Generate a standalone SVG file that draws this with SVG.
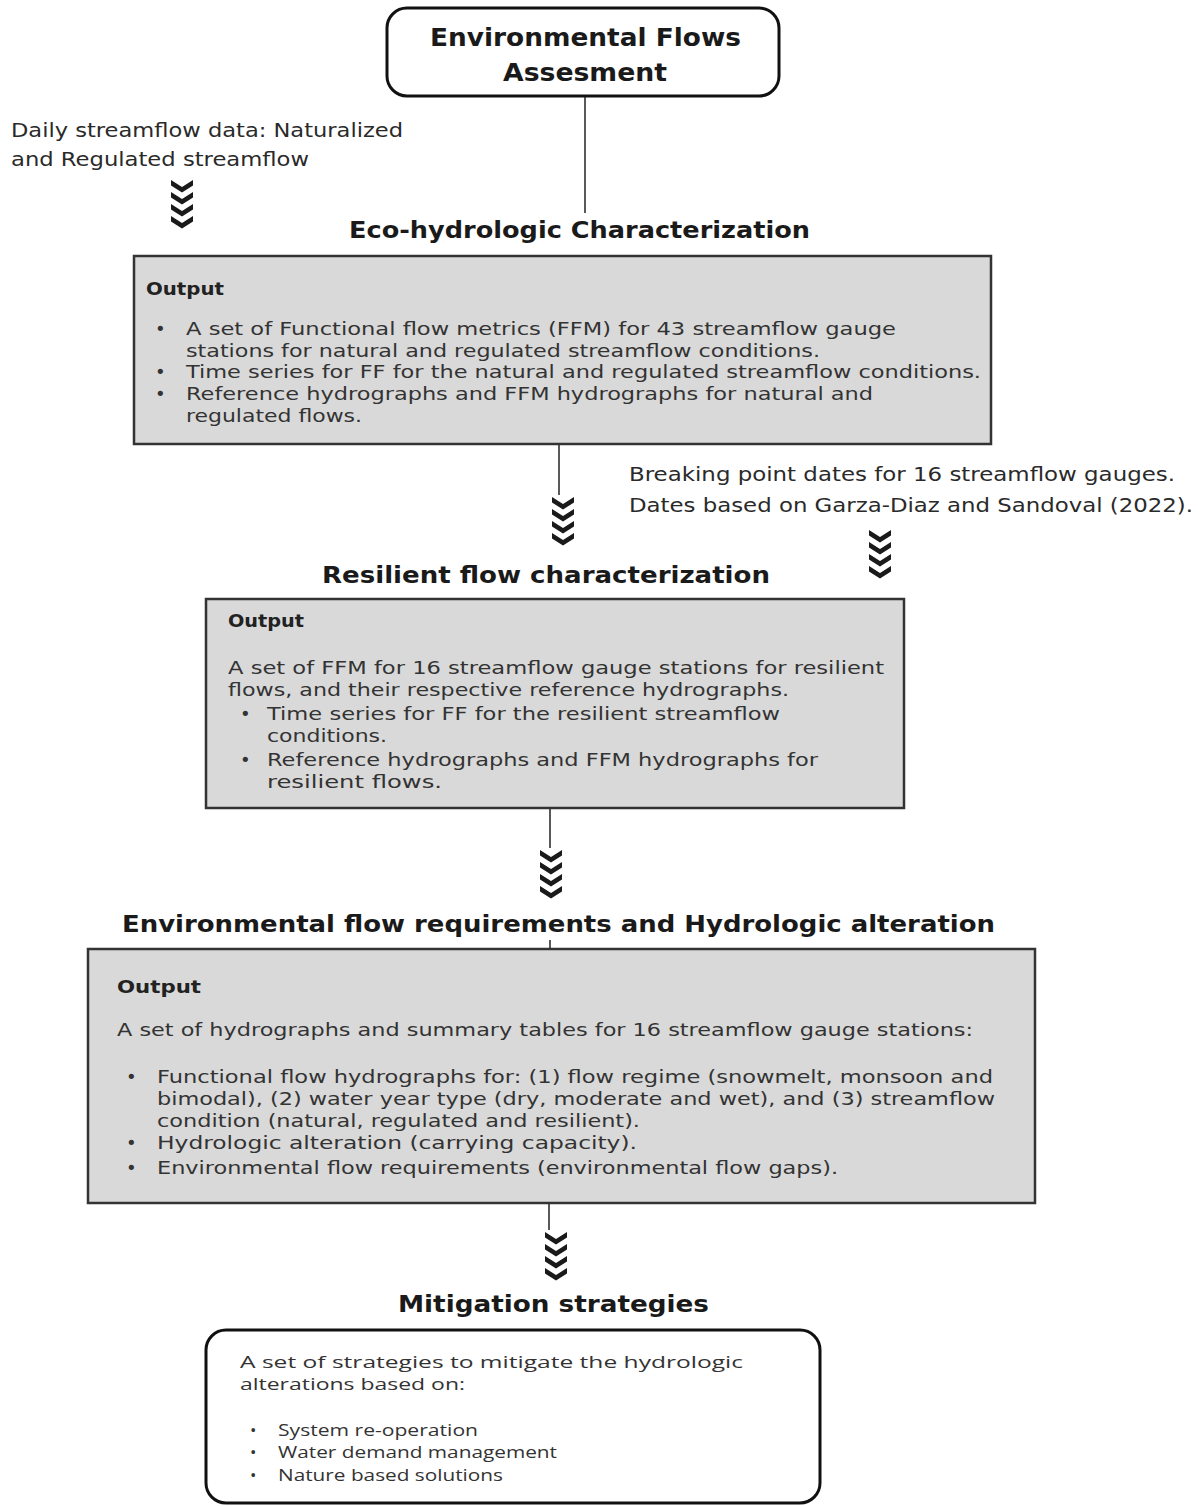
<svg xmlns="http://www.w3.org/2000/svg" width="1204" height="1506" viewBox="0 0 1204 1506">
<style>
.t{font-family:"DejaVu Sans","Liberation Sans",sans-serif;fill:#2a2a2a}
.h{font-family:"DejaVu Sans","Liberation Sans",sans-serif;font-weight:bold;fill:#1a1a1a;font-size:23px}
.b{font-size:18px;fill:#333}
.o{font-weight:bold;font-size:18px;fill:#222}
.box{fill:#d9d9d9;stroke:#333;stroke-width:2.5}
.rbox{fill:#fff;stroke:#111;stroke-width:3}
.ln{stroke:#222;stroke-width:1.5;fill:none}
.m{font-family:"Open Sans","Liberation Sans",sans-serif;font-size:17px;fill:#333}
</style>
<defs>
<symbol id="chev" overflow="visible">
<path id="c1" d="M-11,0 L0,7 L11,0 L11,5.5 L0,12.5 L-11,5.5 Z" fill="#1a1a1a"/>
<use href="#c1" y="12"/>
<use href="#c1" y="24"/>
<use href="#c1" y="36"/>
</symbol>
</defs>
<g id="connectors">
<line class="ln" x1="585" y1="96" x2="585" y2="213"/>
<line class="ln" x1="559" y1="444" x2="559" y2="495"/>
<line class="ln" x1="550" y1="808" x2="550" y2="848"/>
<line class="ln" x1="549" y1="1203" x2="549" y2="1230"/>
<line class="ln" x1="550" y1="940" x2="550" y2="949"/>
<use href="#chev" x="182" y="180"/>
<use href="#chev" x="563" y="497"/>
<use href="#chev" x="880" y="530"/>
<use href="#chev" x="551" y="850"/>
<use href="#chev" x="556" y="1232"/>
</g>
<g id="title">
<rect class="rbox" x="387" y="8" width="392" height="88" rx="20"/>
<text class="h" x="430" y="46" style="font-size:25px" textLength="311" lengthAdjust="spacingAndGlyphs">Environmental Flows</text>
<text class="h" x="503" y="81" style="font-size:25px" textLength="164" lengthAdjust="spacingAndGlyphs">Assesment</text>
</g>
<g id="input1" class="t" font-size="19">
<text x="11" y="137" textLength="392" lengthAdjust="spacingAndGlyphs">Daily streamflow data: Naturalized</text>
<text x="11" y="166" textLength="298" lengthAdjust="spacingAndGlyphs">and Regulated streamflow</text>
</g>
<g id="eco">
<text class="h" x="349" y="238" textLength="461" lengthAdjust="spacingAndGlyphs">Eco-hydrologic Characterization</text>
<rect class="box" x="134" y="256" width="857" height="188"/>
<text class="t o" x="146" y="295" textLength="78" lengthAdjust="spacingAndGlyphs">Output</text>
<g class="t b">
<text x="155" y="335">•</text><text x="186" y="335" textLength="710" lengthAdjust="spacingAndGlyphs">A set of Functional flow metrics (FFM) for 43 streamflow gauge</text>
<text x="186" y="357" textLength="634" lengthAdjust="spacingAndGlyphs">stations for natural and regulated streamflow conditions.</text>
<text x="155" y="378">•</text><text x="186" y="378" textLength="795" lengthAdjust="spacingAndGlyphs">Time series for FF for the natural and regulated streamflow conditions.</text>
<text x="155" y="400">•</text><text x="186" y="400" textLength="687" lengthAdjust="spacingAndGlyphs">Reference hydrographs and FFM hydrographs for natural and</text>
<text x="186" y="422" textLength="176" lengthAdjust="spacingAndGlyphs">regulated flows.</text>
</g>
</g>
<g id="input2" class="t" font-size="19">
<text x="629" y="481" textLength="546" lengthAdjust="spacingAndGlyphs">Breaking point dates for 16 streamflow gauges.</text>
<text x="629" y="512" textLength="564" lengthAdjust="spacingAndGlyphs">Dates based on Garza-Diaz and Sandoval (2022).</text>
</g>
<g id="resilient">
<text class="h" x="322" y="583" textLength="448" lengthAdjust="spacingAndGlyphs">Resilient flow characterization</text>
<rect class="box" x="206" y="599" width="698" height="209"/>
<text class="t o" x="228" y="627" textLength="76" lengthAdjust="spacingAndGlyphs">Output</text>
<g class="t b">
<text x="228" y="674" textLength="656" lengthAdjust="spacingAndGlyphs">A set of FFM for 16 streamflow gauge stations for resilient</text>
<text x="228" y="696" textLength="561" lengthAdjust="spacingAndGlyphs">flows, and their respective reference hydrographs.</text>
<text x="240" y="720">•</text><text x="267" y="720" textLength="513" lengthAdjust="spacingAndGlyphs">Time series for FF for the resilient streamflow</text>
<text x="267" y="742" textLength="120" lengthAdjust="spacingAndGlyphs">conditions.</text>
<text x="240" y="766">•</text><text x="267" y="766" textLength="551" lengthAdjust="spacingAndGlyphs">Reference hydrographs and FFM hydrographs for</text>
<text x="267" y="788" textLength="175" lengthAdjust="spacingAndGlyphs">resilient flows.</text>
</g>
</g>
<g id="requirements">
<text class="h" x="122" y="932" textLength="873" lengthAdjust="spacingAndGlyphs">Environmental flow requirements and Hydrologic alteration</text>
<rect class="box" x="88" y="949" width="947" height="254"/>
<text class="t o" x="117" y="993" textLength="84" lengthAdjust="spacingAndGlyphs">Output</text>
<g class="t b">
<text x="117" y="1036" textLength="856" lengthAdjust="spacingAndGlyphs">A set of hydrographs and summary tables for 16 streamflow gauge stations:</text>
<text x="126" y="1083">•</text><text x="157" y="1083" textLength="836" lengthAdjust="spacingAndGlyphs">Functional flow hydrographs for: (1) flow regime (snowmelt, monsoon and</text>
<text x="157" y="1105" textLength="838" lengthAdjust="spacingAndGlyphs">bimodal), (2) water year type (dry, moderate and wet), and (3) streamflow</text>
<text x="157" y="1127" textLength="483" lengthAdjust="spacingAndGlyphs">condition (natural, regulated and resilient).</text>
<text x="126" y="1149">•</text><text x="157" y="1149" textLength="480" lengthAdjust="spacingAndGlyphs">Hydrologic alteration (carrying capacity).</text>
<text x="126" y="1174">•</text><text x="157" y="1174" textLength="681" lengthAdjust="spacingAndGlyphs">Environmental flow requirements (environmental flow gaps).</text>
</g>
</g>
<g id="mitigation">
<text class="h" x="398" y="1312" textLength="311" lengthAdjust="spacingAndGlyphs">Mitigation  strategies</text>
<rect class="rbox" x="206" y="1330" width="614" height="173" rx="20"/>
<text class="m" x="240" y="1368" textLength="503" lengthAdjust="spacingAndGlyphs">A set of strategies to mitigate the hydrologic</text>
<text class="m" x="240" y="1390" textLength="225" lengthAdjust="spacingAndGlyphs">alterations based on:</text>
<text class="m" x="250" y="1436">•</text><text class="m" x="278" y="1436" textLength="200" lengthAdjust="spacingAndGlyphs">System re-operation</text>
<text class="m" x="250" y="1458">•</text><text class="m" x="278" y="1458" textLength="279" lengthAdjust="spacingAndGlyphs">Water demand management</text>
<text class="m" x="250" y="1481">•</text><text class="m" x="278" y="1481" textLength="225" lengthAdjust="spacingAndGlyphs">Nature based solutions</text>
</g>
</svg>
